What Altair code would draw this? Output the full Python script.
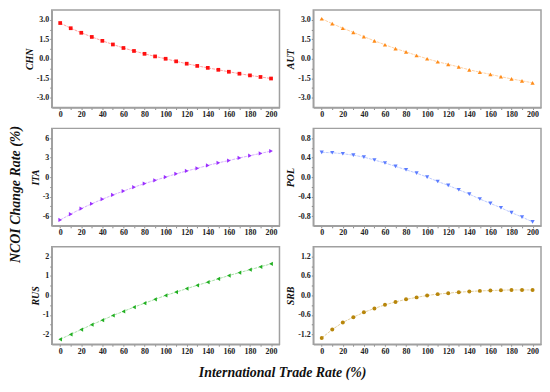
import altair as alt
import pandas as pd

rate = list(range(0, 201, 10))

chn = [2.75, 2.35, 2.0, 1.68, 1.38, 1.1, 0.83, 0.6, 0.38, 0.18, 0.0,
       -0.2, -0.38, -0.55, -0.7, -0.85, -1.0, -1.15, -1.28, -1.4, -1.52]
aut = [3.08, 2.7, 2.35, 2.03, 1.7, 1.38, 1.08, 0.78, 0.53, 0.25, 0.0,
       -0.23, -0.43, -0.63, -0.85, -1.03, -1.2, -1.38, -1.55, -1.7, -1.85]
ita = [-6.6, -5.7, -4.85, -4.1, -3.4, -2.75, -2.15, -1.55, -1.0, -0.5, 0.0,
       0.5, 0.95, 1.35, 1.8, 2.2, 2.55, 2.95, 3.3, 3.65, 4.0]
pol = [0.507, 0.5, 0.48, 0.45, 0.41, 0.35, 0.29, 0.22, 0.15, 0.08, 0.0,
       -0.09, -0.17, -0.26, -0.35, -0.45, -0.54, -0.63, -0.73, -0.82, -0.92]
rus = [-2.25, -2.0, -1.75, -1.5, -1.27, -1.03, -0.82, -0.6, -0.4, -0.2, 0.0,
       0.17, 0.35, 0.52, 0.68, 0.85, 1.02, 1.17, 1.32, 1.47, 1.62]
srb = [-1.31, -1.05, -0.83, -0.67, -0.52, -0.4, -0.29, -0.2, -0.12, -0.06, 0.0,
       0.04, 0.07, 0.1, 0.12, 0.14, 0.15, 0.16, 0.17, 0.17, 0.17]

countries = ["CHN", "AUT", "ITA", "POL", "RUS", "SRB"]
series = [chn, aut, ita, pol, rus, srb]
colors = ["#ff1010", "#ff8c1a", "#9b30ff", "#5b7cff", "#22b022", "#b8860b"]
shapes = ["square", "triangle-up", "triangle-right", "triangle-down", "triangle-left", "circle"]
steps = [1.5, 1.5, 3, 0.4, 1, 0.6]
fmts = [".1f", ".1f", "d", ".1f", "d", ".1f"]
msizes = [14, 18, 18, 18, 18, 16]

FONT = "Liberation Serif, Times New Roman, serif"
W, H = 229, 98


def panel(name, vals, color, shape, step, fmt, msize):
    df = pd.DataFrame({"x": rate, "y": vals})
    dom = [-2.5 * step, 2.5 * step]
    yvals = [round(k * step / 2, 4) for k in range(-4, 5)]
    ylabel = (
        f"abs(datum.value/{step} - round(datum.value/{step})) < 0.001 ? "
        f"replace(format(datum.value, '{fmt}'), '\u2212', '-') : ''"
    )
    x = alt.X(
        "x:Q",
        scale=alt.Scale(domain=[-8, 208], nice=False, zero=False),
        axis=alt.Axis(
            values=rate,
            labelExpr="datum.value % 20 == 0 ? datum.label : ''",
            title=None,
            grid=False,
        ),
    )
    y = alt.Y(
        "y:Q",
        scale=alt.Scale(domain=dom, nice=False, zero=False),
        axis=alt.Axis(values=yvals, labelExpr=ylabel, title=name, grid=False),
    )
    base = alt.Chart(df).encode(x=x, y=y)
    line = base.mark_line(color=color, opacity=0.4, strokeWidth=1, strokeDash=[3, 1])
    pts = base.mark_point(shape=shape, filled=True, color=color, size=msize, opacity=1)
    return (line + pts).properties(width=W, height=H)


panels = [panel(*args) for args in zip(countries, series, colors, shapes, steps, fmts, msizes)]

grid = alt.concat(*panels, columns=2, spacing={"row": 8, "column": 4}).properties(
    title=alt.TitleParams(
        "International Trade Rate (%)",
        orient="bottom",
        anchor="middle",
        font=FONT,
        fontSize=14,
        fontWeight="bold",
        fontStyle="italic",
        color="#111",
        offset=10,
    )
)

chart = (
    alt.hconcat(grid)
    .properties(
        title=alt.TitleParams(
            "NCOI Change Rate (%)",
            orient="left",
            anchor="middle",
            font=FONT,
            fontSize=14,
            fontWeight="bold",
            fontStyle="italic",
            color="#111",
            offset=1,
        ),
        padding={"left": 0, "top": 0, "right": 0, "bottom": 0},
    )
    .configure_view(stroke="#a0a0a0", strokeWidth=1.5)
    .configure_axis(
        labelFont=FONT,
        labelFontWeight="bold",
        labelFontSize=8,
        labelColor="#222",
        labelPadding=1,
        tickSize=2,
        tickColor="#888",
        domainColor="#a0a0a0",
        domainWidth=1.5,
        titleFont=FONT,
        titleFontSize=10,
        titleFontWeight="bold",
        titleFontStyle="italic",
        titleColor="#111",
        titlePadding=2,
    )
)

chart.save("out.html", embed_options={"renderer": "svg", "actions": False})
